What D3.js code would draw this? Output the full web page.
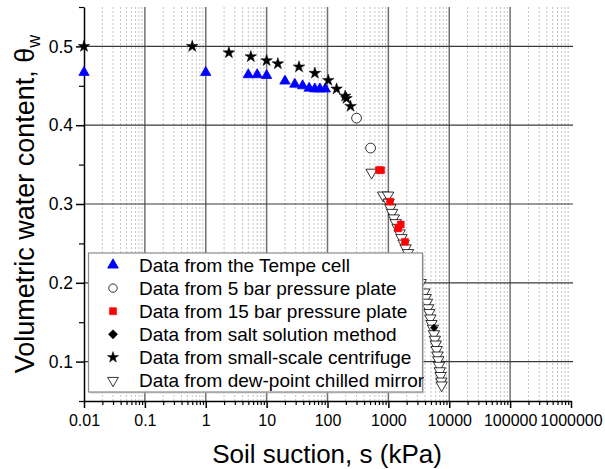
<!DOCTYPE html>
<html><head><meta charset="utf-8">
<script src="https://cdn.jsdelivr.net/npm/d3@7"></script>
<style>
html,body{margin:0;padding:0;background:#fff;}
svg{display:block;font-family:"Liberation Sans",Arial,sans-serif;}
</style></head>
<body>
<svg id="chart" width="605" height="469"></svg>
<script>
// ---- data ----
const xTickValues = [0.01, 0.1, 1, 10, 100, 1000, 10000, 100000, 1000000];
const xTickLabels = ["0.01", "0.1", "1", "10", "100", "1000", "10000", "100000", "1000000"];
const yTickValues = [0.1, 0.2, 0.3, 0.4, 0.5];
const yTickLabels = ["0.1", "0.2", "0.3", "0.4", "0.5"];

const tempeS = [0.01, 1.0, 5.0, 7.0, 10, 20, 29, 39, 50, 62, 75, 92];
const tempeT = [0.467, 0.467, 0.464, 0.464, 0.463, 0.456, 0.452, 0.450, 0.447, 0.446, 0.446, 0.446];

const plate5S = [300, 510];
const plate5T = [0.409, 0.371];

const plate15S = [700, 760, 1060, 1450, 1600, 1870];
const plate15T = [0.343, 0.343, 0.303, 0.269, 0.274, 0.252];

const saltS = [5600];
const saltT = [0.143];

const centS = [0.01, 0.6, 2.4, 5.5, 10, 15.3, 34, 62, 103, 141, 195, 205, 239];
const centT = [0.500, 0.500, 0.492, 0.487, 0.482, 0.478, 0.474, 0.466, 0.457, 0.446, 0.437, 0.434, 0.424];

const dewS = [530, 820, 990, 1010, 1080, 1150, 1230, 1320, 1420, 1530, 1640, 1780, 1920, 2100, 2600, 3000, 3400, 3900,
              4100, 4300, 4500, 4700, 4900, 5100, 5400, 5600, 5800, 6000, 6200, 6400, 6600, 6800, 7000, 7200, 7400, 7500];
const dewT = [0.340, 0.311, 0.311, 0.302, 0.295, 0.289, 0.282, 0.276, 0.270, 0.263, 0.257, 0.250, 0.244, 0.238, 0.226, 0.213, 0.200, 0.188,
              0.181, 0.175, 0.168, 0.162, 0.155, 0.148, 0.142, 0.135, 0.128, 0.122, 0.115, 0.108, 0.102, 0.095, 0.088, 0.082, 0.075, 0.070];

const legendLabels = ["Data from the Tempe cell", "Data from 5 bar pressure plate", "Data from 15 bar pressure plate",
                      "Data from salt solution method", "Data from small-scale centrifuge", "Data from dew-point chilled mirror"];

// ---- chart ----
const svg = d3.select("#chart");
const L = 84, R = 571, T = 7, B = 401;
const x = d3.scaleLog().domain([0.01, 1000000]).range([L, R]);
const y = d3.scaleLinear().domain([0.05, 0.55]).range([B, T]);

// minor vertical grid
const minorX = [];
for (let e = -2; e < 6; e++) for (let m = 2; m <= 9; m++) minorX.push(m * Math.pow(10, e));
svg.append("g").selectAll("line").data(minorX).join("line")
  .attr("x1", d => x(d)).attr("x2", d => x(d)).attr("y1", T).attr("y2", B)
  .attr("stroke", "#c4c4c4").attr("stroke-width", 1).attr("stroke-dasharray", "2,2");
// major vertical grid
svg.append("g").selectAll("line").data(xTickValues.slice(1, -1)).join("line")
  .attr("x1", d => x(d)).attr("x2", d => x(d)).attr("y1", T).attr("y2", B)
  .attr("stroke", "#707070").attr("stroke-width", 1.5);
// horizontal grid
svg.append("g").selectAll("line").data(yTickValues).join("line")
  .attr("x1", L).attr("x2", R + 2).attr("y1", d => y(d)).attr("y2", d => y(d))
  .attr("stroke", "#3a3a3a").attr("stroke-width", 1.2);

// axes
const xAxis = d3.axisBottom(x).tickValues(xTickValues).tickFormat((d, i) => xTickLabels[i]).tickSize(7).tickSizeOuter(0);
const gx = svg.append("g").attr("transform", `translate(0,${B})`).call(xAxis);
gx.selectAll(".tick text").attr("font-size", 16).attr("fill", "#000").attr("dy", "0.95em").attr("font-family", "Liberation Sans, Arial, sans-serif");
gx.select(".domain").attr("stroke", "#000").attr("stroke-width", 1.5);
gx.selectAll(".tick line").attr("stroke", "#000").attr("stroke-width", 1.5);
const xMinorAxis = d3.axisBottom(x).tickValues(minorX).tickFormat("").tickSize(4).tickSizeOuter(0);
const gxm = svg.append("g").attr("transform", `translate(0,${B})`).call(xMinorAxis);
gxm.select(".domain").remove();
gxm.selectAll(".tick line").attr("stroke", "#000").attr("stroke-width", 1.2);

const yAxis = d3.axisLeft(y).tickValues(yTickValues).tickFormat((d, i) => yTickLabels[i]).tickSize(8).tickSizeOuter(0);
const gy = svg.append("g").attr("transform", `translate(${L},0)`).call(yAxis);
gy.selectAll(".tick text").attr("font-size", 17.5).attr("fill", "#000").attr("x", -11).attr("font-family", "Liberation Sans, Arial, sans-serif");
gy.select(".domain").attr("stroke", "#000").attr("stroke-width", 1.5);
gy.selectAll(".tick line").attr("stroke", "#000").attr("stroke-width", 1.5);
const yMinor = [0.05, 0.15, 0.25, 0.35, 0.45, 0.55];
const gym = svg.append("g").attr("transform", `translate(${L},0)`).call(d3.axisLeft(y).tickValues(yMinor).tickFormat("").tickSize(5).tickSizeOuter(0));
gym.select(".domain").remove();
gym.selectAll(".tick line").attr("stroke", "#000").attr("stroke-width", 1.2);

// symbols
const sym = {
  tempe: { type: d3.symbolTriangle, size: 46, fill: "#0000ff", stroke: "#0000ff", rot: 0, sw: 0.8 },
  plate5: { type: d3.symbolCircle, size: 75, fill: "#fff", stroke: "#000", rot: 0, sw: 0.8 },
  plate15: { type: d3.symbolSquare, size: 48, fill: "#ff0000", stroke: "#ff0000", rot: 0, sw: 0.5 },
  salt: { type: d3.symbolSquare, size: 26, fill: "#000", stroke: "#000", rot: 45, sw: 0.5 },
  cent: { type: d3.symbolStar, size: 42, fill: "#000", stroke: "#000", rot: 0, sw: 0.5 },
  dew: { type: d3.symbolTriangle, size: 56, fill: "#fff", stroke: "#000", rot: 180, sw: 0.8 }
};
function drawSeries(sx, sy, s) {
  const pts = sx.map((v, i) => [v, sy[i]]);
  svg.append("g").selectAll("path").data(pts).join("path")
    .attr("d", d3.symbol().type(s.type).size(s.size))
    .attr("transform", d => `translate(${x(d[0])},${y(d[1])}) rotate(${s.rot})`)
    .attr("fill", s.fill).attr("stroke", s.stroke).attr("stroke-width", s.sw);
}
drawSeries(dewS, dewT, sym.dew);
drawSeries(plate5S, plate5T, sym.plate5);
drawSeries(plate15S, plate15T, sym.plate15);
drawSeries(saltS, saltT, sym.salt);
drawSeries(tempeS, tempeT, sym.tempe);
drawSeries(centS, centT, sym.cent);

// legend
const lg = svg.append("g");
lg.append("rect").attr("x", 90).attr("y", 254.5).attr("width", 334).attr("height", 139)
  .attr("fill", "#bbb").attr("opacity", 0.6);
lg.append("rect").attr("x", 88.5).attr("y", 253).attr("width", 334).attr("height", 139)
  .attr("fill", "#fff").attr("stroke", "#8a8a8a").attr("stroke-width", 1.2);
const legendSyms = [
  Object.assign({}, sym.tempe, { size: 50 }),
  Object.assign({}, sym.plate5, { size: 55 }),
  Object.assign({}, sym.plate15, { size: 50 }),
  Object.assign({}, sym.salt, { size: 42 }),
  Object.assign({}, sym.cent, { size: 38 }),
  Object.assign({}, sym.dew, { size: 50 })
];
legendLabels.forEach((lab, i) => {
  const cy = 265 + i * 23.1;
  const s = legendSyms[i];
  lg.append("path").attr("d", d3.symbol().type(s.type).size(s.size)())
    .attr("transform", `translate(113,${cy}) rotate(${s.rot})`)
    .attr("fill", s.fill).attr("stroke", s.stroke).attr("stroke-width", s.sw);
  lg.append("text").attr("x", 139).attr("y", cy + 6.5).attr("font-size", 19).attr("fill", "#000").text(lab);
});

// axis titles
svg.append("text").attr("x", 327).attr("y", 463).attr("text-anchor", "middle")
  .attr("font-size", 26).attr("fill", "#000").text("Soil suction, s (kPa)");
const yt = svg.append("text").attr("transform", "translate(34,204) rotate(-90)").attr("text-anchor", "middle")
  .attr("font-size", 27).attr("fill", "#000");
yt.append("tspan").text("Volumetric water content, θ");
yt.append("tspan").attr("font-size", 18).attr("dy", 6).text("w");
</script>
</body></html>
